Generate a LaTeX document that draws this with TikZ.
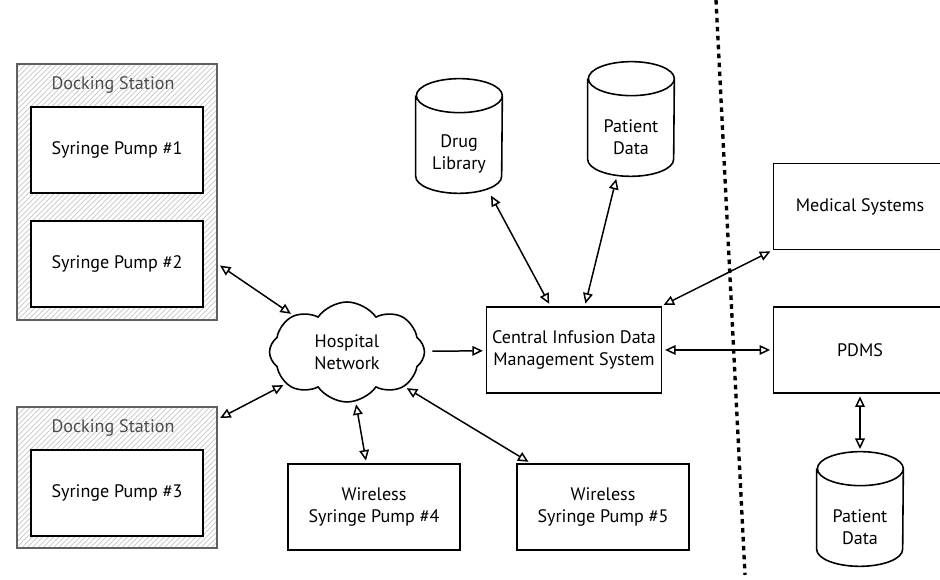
\documentclass[tikz,border=0pt]{standalone}
\usepackage{fontspec}
\setmainfont{PT Sans}
\usetikzlibrary{calc,positioning,shapes.symbols,patterns,arrows.meta}

\tikzset{
  txt/.style={font=\fontsize{10.3}{12.5}\selectfont, align=center},
  box/.style={txt, draw, line width=0.9pt, fill=white, minimum width=3.44cm, minimum height=1.72cm},
  dock/.style={draw=gray!75!black, line width=0.9pt, pattern=north east lines, pattern color=gray!45, minimum width=4cm},
  docklbl/.style={txt, text=black!70},
  dbspace/.style={minimum width=1.72cm, minimum height=2.28cm, inner sep=0pt},
  dbline/.style={line width=0.9pt},
  arr/.style={line width=0.85pt, {Triangle[open,length=6pt,width=5.5pt]}-{Triangle[open,length=6pt,width=5.5pt]}, shorten <=1.5pt, shorten >=1.5pt},
  arrone/.style={line width=0.85pt, -{Triangle[open,length=6pt,width=5.5pt]}, shorten <=4pt, shorten >=1.5pt},
}

% cylinder: name, position, text
\newcommand{\dbcyl}[3]{%
  \node[dbspace] (#1) at #2 {};
  \draw[dbline] ($(#1.north west)+(0,-17)$) -- ($(#1.south west)+(0,17)$)
    arc[start angle=180,end angle=360,x radius=43,y radius=17]
    -- ($(#1.north east)+(0,-17)$)
    arc[start angle=0,end angle=180,x radius=43,y radius=17]
    arc[start angle=180,end angle=360,x radius=43,y radius=17];
  \node[txt] (#1-txt) at ($(#1)+(0,-18)$) {#3};
}

\begin{document}
\begin{tikzpicture}[x=0.02cm,y=0.02cm]
  \useasboundingbox (0,0) rectangle (940,580);

  % docking stations
  \node[dock, minimum height=5.12cm] (ds1) at (117,388) {};
  \node[docklbl] (ds1-lbl) at (113,495) {Docking Station};
  \node[box] (pump1) at (117,430) {Syringe Pump \#1};
  \node[box] (pump2) at (117,316) {Syringe Pump \#2};

  \node[dock, minimum height=2.82cm] (ds2) at (117,102.5) {};
  \node[docklbl] (ds2-lbl) at (113,152) {Docking Station};
  \node[box] (pump3) at (117,87) {Syringe Pump \#3};

  % network and servers
  \node[cloud, draw, txt, line width=0.9pt, cloud puffs=8, cloud puff arc=110, aspect=1.6,
        minimum width=3.1cm, minimum height=2cm] (net) at (347,228) {Hospital\\Network};
  \node[box] (cidms) at (574,230) {Central Infusion Data\\Management System};
  \node[box] (w4) at (374,73) {Wireless\\Syringe Pump \#4};
  \node[box] (w5) at (603,73) {Wireless\\Syringe Pump \#5};

  \dbcyl{drug}{(459,444)}{Drug\\Library}
  \dbcyl{pat}{(631,461)}{Patient\\Data}

  % outside systems
  \node[box, minimum width=3.46cm] (medsys) at (860,373.5) {Medical Systems};
  \node[box, minimum width=3.46cm] (pdms) at (860,230) {PDMS};
  \dbcyl{pat2}{(860,71)}{Patient\\Data}

  % boundary
  \coordinate (sep-top) at (716,580);
  \coordinate (sep-bot) at (745,5);
  \draw[line width=1.9pt, dash pattern=on 2.6pt off 2.5pt] (sep-top) -- (sep-bot);

  % links
  \draw[arr] (ds1.east |- pump2) -- (net);
  \draw[arr] ($(ds2.north east)+(0,-13)$) -- (net);
  \draw[arrone] (net) -- (cidms);
  \draw[arr] (net) -- (w4);
  \draw[arr] (net) -- (w5);
  \draw[arr] (drug) -- (cidms);
  \draw[arr] (pat) -- (cidms);
  \draw[arr] (cidms) -- (medsys);
  \draw[arr] (cidms) -- (pdms);
  \draw[arr] (pdms) -- (pat2);
\end{tikzpicture}
\end{document}
